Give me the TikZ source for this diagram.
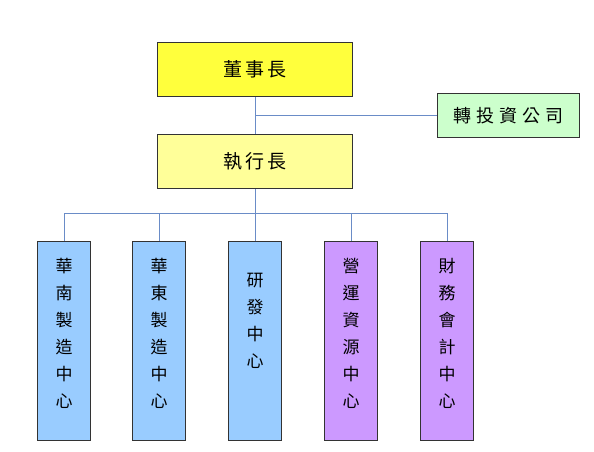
\documentclass[tikz,border=0pt]{standalone}
\usepackage{fontspec}
\usetikzlibrary{calc}
\newfontfamily\cjk{Noto Sans CJK TC}
\definecolor{lineblue}{HTML}{6A8CC7}
\definecolor{bordergray}{HTML}{333333}
\definecolor{yelA}{HTML}{FFFF3C}
\definecolor{yelB}{HTML}{FFFF99}
\definecolor{greenbox}{HTML}{CCFFCC}
\definecolor{bluebox}{HTML}{99CCFF}
\definecolor{purplebox}{HTML}{CC99FF}
\tikzset{
  box/.style={draw=bordergray, line width=1pt, inner sep=0pt, anchor=north west},
  conn/.style={draw=lineblue, line width=0.9pt},
  hlabel/.style={font=\cjk\fontsize{19}{22}\selectfont},
  vlabel/.style={font=\cjk\fontsize{17}{27}\selectfont, align=center, anchor=north, inner sep=0pt},
}
\begin{document}
\begin{tikzpicture}[x=1pt,y=-1pt]
\useasboundingbox (0,0) rectangle (594,451);
\fill[white] (0,0) rectangle (594,451);
% boxes
\node[box, fill=yelA, minimum width=195pt, minimum height=54pt] (ceo0) at (157,42) {};
\node[hlabel] at (ceo0.center) {董\hspace{3pt}事\hspace{3pt}長};
\node[box, fill=greenbox, minimum width=142pt, minimum height=44pt] (inv) at (437,93) {};
\node[hlabel, font=\cjk\fontsize{18}{22}\selectfont] at (inv.center) {轉\hspace{5pt}投\hspace{5pt}資\hspace{5pt}公\hspace{5pt}司};
\node[box, fill=yelB, minimum width=195pt, minimum height=54pt] (ceo) at (157,134) {};
\node[hlabel] at (ceo.center) {執\hspace{3pt}行\hspace{3pt}長};

\node[box, fill=bluebox, minimum width=53pt, minimum height=199pt] (b1) at (37,241) {};
\node[box, fill=bluebox, minimum width=53pt, minimum height=199pt] (b2) at (132,241) {};
\node[box, fill=bluebox, minimum width=53pt, minimum height=199pt] (b3) at (228,241) {};
\node[box, fill=purplebox, minimum width=53pt, minimum height=199pt] (b4) at (324,241) {};
\node[box, fill=purplebox, minimum width=53pt, minimum height=199pt] (b5) at (420,241) {};

\node[vlabel] at ($(b1.north)+(0,17)$) {華\\南\\製\\造\\中\\心};
\node[vlabel] at ($(b2.north)+(0,17)$) {華\\東\\製\\造\\中\\心};
\node[vlabel] at ($(b3.north)+(0,32)$) {研\\發\\中\\心};
\node[vlabel] at ($(b4.north)+(0,17)$) {營\\運\\資\\源\\中\\心};
\node[vlabel] at ($(b5.north)+(0,17)$) {財\\務\\會\\計\\中\\心};

% connectors
\coordinate (j1) at (ceo0.south |- inv.west);
\draw[conn] (ceo0.south) -- (ceo.north);
\draw[conn] (j1) -- (inv.west);
\coordinate (bus) at (0,213);
\draw[conn] (ceo.south) -- (ceo.south |- bus);
\draw[conn] (b1.north) -- (b1.north |- bus) -- (b5.north |- bus) -- (b5.north);
\draw[conn] (b2.north) -- (b2.north |- bus);
\draw[conn] (b3.north) -- (b3.north |- bus);
\draw[conn] (b4.north) -- (b4.north |- bus);
\end{tikzpicture}
\end{document}
